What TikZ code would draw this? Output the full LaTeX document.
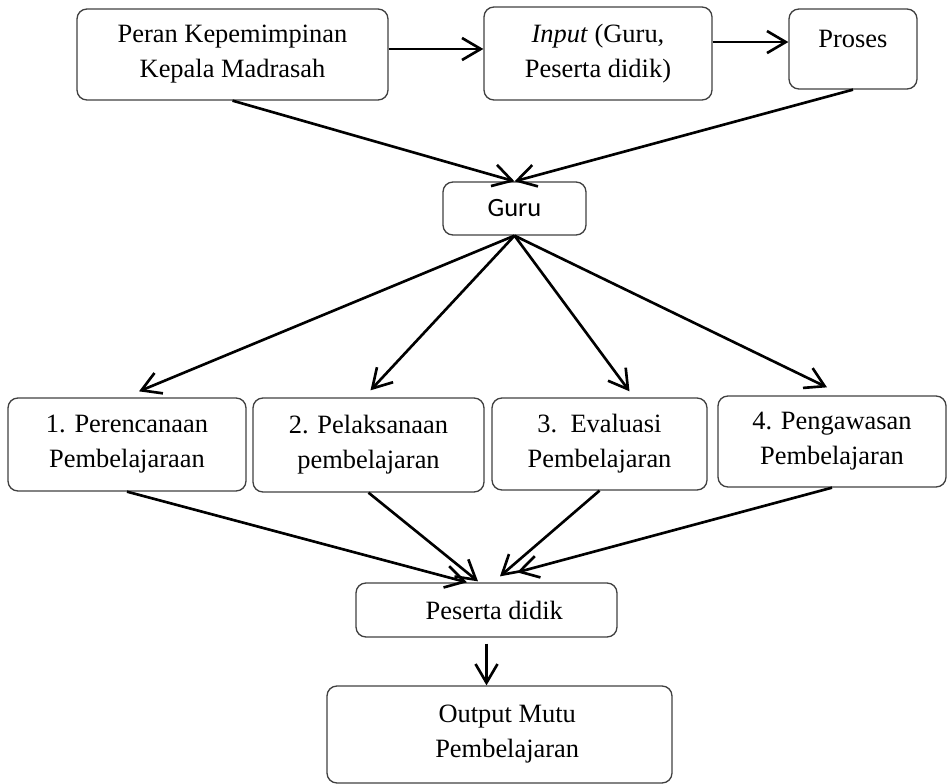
\documentclass[tikz,border=0pt]{standalone}
\usepackage{fontspec}
\setmainfont{Liberation Serif}
\newfontfamily\calibri{Carlito}
\usepackage{tikz}
\usetikzlibrary{arrows.meta,positioning,calc}
\newcommand{\pxu}{0.454pt}

\begin{document}
\begin{tikzpicture}[x=\pxu,y=-\pxu,
  kotak/.style={draw=black!75,line width=0.6pt,rounded corners=4.5pt,align=center,
    inner sep=0pt,font=\fontsize{12}{15.9}\selectfont},
  panah/.style={-{Straight Barb[length=8.5pt,width=10pt]},line width=1.2pt}]
  \useasboundingbox (0,0) rectangle (948,784);

  % baris atas
  \node[kotak,minimum width=311*\pxu,minimum height=91*\pxu] (peran) at (232.5,54.5)
    {Peran Kepemimpinan\\Kepala Madrasah};
  \node[kotak,minimum width=228*\pxu,minimum height=93*\pxu] (input) at (598,53.5)
    {\textit{Input} (Guru,\\Peserta didik)};
  \node[kotak,minimum width=128*\pxu,minimum height=80*\pxu,text height=7pt,text depth=8.6pt] (proses) at (853,49)
    {Proses};
  \node[kotak,minimum width=143*\pxu,minimum height=53*\pxu,font=\calibri\fontsize{12}{14}\selectfont] (guru) at (514.5,208.5)
    {Guru};

  % empat fungsi
  \node[kotak,minimum width=238*\pxu,minimum height=93*\pxu] (b1) at (127,444.5)
    {1. Perencanaan\\Pembelajaraan};
  \node[kotak,minimum width=231*\pxu,minimum height=94*\pxu] (b2) at (368.5,445)
    {2. Pelaksanaan\\pembelajaran};
  \node[kotak,minimum width=215*\pxu,minimum height=92*\pxu] (b3) at (599.5,444)
    {3.\ \ Evaluasi\\Pembelajaran};
  \node[kotak,minimum width=228*\pxu,minimum height=91*\pxu] (b4) at (832,441.5)
    {4. Pengawasan\\Pembelajaran};

  \node[kotak,minimum width=261*\pxu,minimum height=54*\pxu] (pd) at (486.5,610)
    {\hspace*{7pt}Peserta didik};
  \node[kotak,minimum width=345*\pxu,minimum height=97*\pxu] (out) at (499.5,734.5)
    {\hspace*{7pt}Output Mutu\\\hspace*{7pt}Pembelajaran};

  \draw[panah] ([yshift=2.5pt]peran.east) -- ([yshift=2.5pt]peran.east -| input.west);
  \draw[panah] ([yshift=5.2pt]input.east) -- ([yshift=5.2pt]input.east -| proses.west);
  \draw[panah] (peran.south) -- (guru.north);
  \draw[panah] (proses.south) -- (guru.north);

  \foreach \b/\dx/\dy in {b1/12/-6,b2/2/-7,b3/30/-6,b4/-5/-8}
    \draw[panah] (guru.south) -- ($(\b.north)+(\dx,\dy)$);
  \foreach \b/\dx/\dy in {b1/-19.5/0,b2/-8.5/-1,b3/13.5/-6,b4/30.5/-10}
    \draw[panah] (\b.south) -- ($(pd.north)+(\dx,\dy)$);

  \draw[panah] ($(pd.south)+(0,6)$) -- (pd.south |- out.north);
\end{tikzpicture}
\end{document}
